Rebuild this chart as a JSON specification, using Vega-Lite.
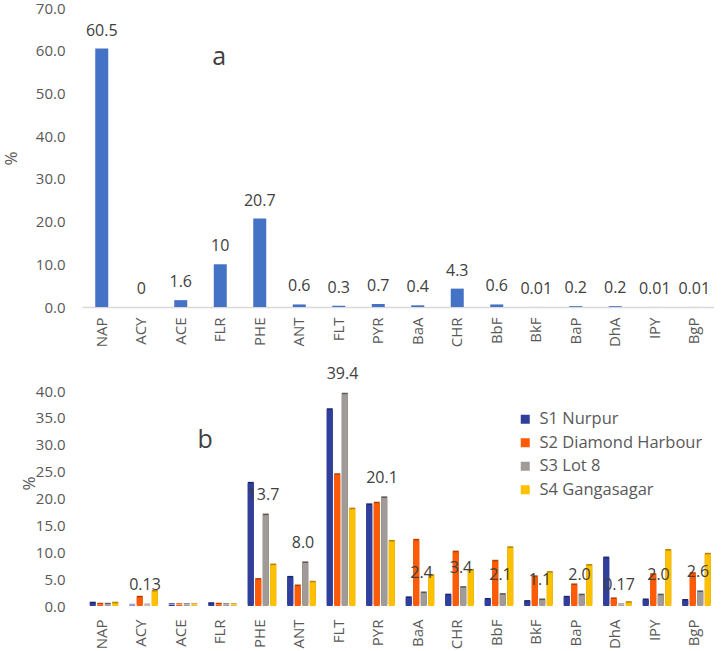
{
  "$schema": "https://vega.github.io/schema/vega-lite/v6.json",
  "background": "white",
  "padding": {"left": 2, "top": 1, "right": 0, "bottom": 0},
  "spacing": 19,
  "config": {
    "font": "Open Sans",
    "view": {"stroke": null},
    "axis": {"labelFont": "Open Sans", "titleFont": "Open Sans", "labelColor": "#595959", "titleColor": "#595959", "grid": false, "ticks": false, "labelOverlap": false}
  },
  "datasets": {
    "single": [
      {"pah": "NAP", "pct": 60.5, "label": "60.5"},
      {"pah": "ACY", "pct": 0, "label": "0"},
      {"pah": "ACE", "pct": 1.6, "label": "1.6"},
      {"pah": "FLR", "pct": 10, "label": "10"},
      {"pah": "PHE", "pct": 20.7, "label": "20.7"},
      {"pah": "ANT", "pct": 0.6, "label": "0.6"},
      {"pah": "FLT", "pct": 0.3, "label": "0.3"},
      {"pah": "PYR", "pct": 0.7, "label": "0.7"},
      {"pah": "BaA", "pct": 0.4, "label": "0.4"},
      {"pah": "CHR", "pct": 4.3, "label": "4.3"},
      {"pah": "BbF", "pct": 0.6, "label": "0.6"},
      {"pah": "BkF", "pct": 0.01, "label": "0.01"},
      {"pah": "BaP", "pct": 0.2, "label": "0.2"},
      {"pah": "DhA", "pct": 0.2, "label": "0.2"},
      {"pah": "IPY", "pct": 0.01, "label": "0.01"},
      {"pah": "BgP", "pct": 0.01, "label": "0.01"}
    ],
    "sites": [
      {"pah": "NAP", "site": "S1 Nurpur", "pct": 0.5},
      {"pah": "NAP", "site": "S2 Diamond Harbour", "pct": 0.3},
      {"pah": "NAP", "site": "S3 Lot 8", "pct": 0.3},
      {"pah": "NAP", "site": "S4 Gangasagar", "pct": 0.5},
      {"pah": "ACY", "site": "S1 Nurpur", "pct": 0.1},
      {"pah": "ACY", "site": "S2 Diamond Harbour", "pct": 1.6},
      {"pah": "ACY", "site": "S3 Lot 8", "pct": 0.13, "label": "0.13"},
      {"pah": "ACY", "site": "S4 Gangasagar", "pct": 2.7},
      {"pah": "ACE", "site": "S1 Nurpur", "pct": 0.2},
      {"pah": "ACE", "site": "S2 Diamond Harbour", "pct": 0.2},
      {"pah": "ACE", "site": "S3 Lot 8", "pct": 0.2},
      {"pah": "ACE", "site": "S4 Gangasagar", "pct": 0.2},
      {"pah": "FLR", "site": "S1 Nurpur", "pct": 0.4},
      {"pah": "FLR", "site": "S2 Diamond Harbour", "pct": 0.3},
      {"pah": "FLR", "site": "S3 Lot 8", "pct": 0.2},
      {"pah": "FLR", "site": "S4 Gangasagar", "pct": 0.2},
      {"pah": "PHE", "site": "S1 Nurpur", "pct": 22.8},
      {"pah": "PHE", "site": "S2 Diamond Harbour", "pct": 4.9},
      {"pah": "PHE", "site": "S3 Lot 8", "pct": 16.9, "label": "13.7"},
      {"pah": "PHE", "site": "S4 Gangasagar", "pct": 7.6},
      {"pah": "ANT", "site": "S1 Nurpur", "pct": 5.3},
      {"pah": "ANT", "site": "S2 Diamond Harbour", "pct": 3.7},
      {"pah": "ANT", "site": "S3 Lot 8", "pct": 8.0, "label": "8.0"},
      {"pah": "ANT", "site": "S4 Gangasagar", "pct": 4.4},
      {"pah": "FLT", "site": "S1 Nurpur", "pct": 36.5},
      {"pah": "FLT", "site": "S2 Diamond Harbour", "pct": 24.4},
      {"pah": "FLT", "site": "S3 Lot 8", "pct": 39.4, "label": "39.4"},
      {"pah": "FLT", "site": "S4 Gangasagar", "pct": 18.0},
      {"pah": "PYR", "site": "S1 Nurpur", "pct": 18.8},
      {"pah": "PYR", "site": "S2 Diamond Harbour", "pct": 19.1},
      {"pah": "PYR", "site": "S3 Lot 8", "pct": 20.1, "label": "20.1"},
      {"pah": "PYR", "site": "S4 Gangasagar", "pct": 12.0},
      {"pah": "BaA", "site": "S1 Nurpur", "pct": 1.5},
      {"pah": "BaA", "site": "S2 Diamond Harbour", "pct": 12.2},
      {"pah": "BaA", "site": "S3 Lot 8", "pct": 2.4, "label": "2.4"},
      {"pah": "BaA", "site": "S4 Gangasagar", "pct": 5.6},
      {"pah": "CHR", "site": "S1 Nurpur", "pct": 2.0},
      {"pah": "CHR", "site": "S2 Diamond Harbour", "pct": 10.0},
      {"pah": "CHR", "site": "S3 Lot 8", "pct": 3.4, "label": "3.4"},
      {"pah": "CHR", "site": "S4 Gangasagar", "pct": 6.6},
      {"pah": "BbF", "site": "S1 Nurpur", "pct": 1.2},
      {"pah": "BbF", "site": "S2 Diamond Harbour", "pct": 8.3},
      {"pah": "BbF", "site": "S3 Lot 8", "pct": 2.1, "label": "2.1"},
      {"pah": "BbF", "site": "S4 Gangasagar", "pct": 10.8},
      {"pah": "BkF", "site": "S1 Nurpur", "pct": 0.8},
      {"pah": "BkF", "site": "S2 Diamond Harbour", "pct": 5.4},
      {"pah": "BkF", "site": "S3 Lot 8", "pct": 1.1, "label": "1.1"},
      {"pah": "BkF", "site": "S4 Gangasagar", "pct": 6.2},
      {"pah": "BaP", "site": "S1 Nurpur", "pct": 1.6},
      {"pah": "BaP", "site": "S2 Diamond Harbour", "pct": 3.9},
      {"pah": "BaP", "site": "S3 Lot 8", "pct": 2.0, "label": "2.0"},
      {"pah": "BaP", "site": "S4 Gangasagar", "pct": 7.5},
      {"pah": "DhA", "site": "S1 Nurpur", "pct": 8.9},
      {"pah": "DhA", "site": "S2 Diamond Harbour", "pct": 1.3},
      {"pah": "DhA", "site": "S3 Lot 8", "pct": 0.17, "label": "0.17"},
      {"pah": "DhA", "site": "S4 Gangasagar", "pct": 0.6},
      {"pah": "IPY", "site": "S1 Nurpur", "pct": 1.1},
      {"pah": "IPY", "site": "S2 Diamond Harbour", "pct": 5.8},
      {"pah": "IPY", "site": "S3 Lot 8", "pct": 2.0, "label": "2.0"},
      {"pah": "IPY", "site": "S4 Gangasagar", "pct": 10.3},
      {"pah": "BgP", "site": "S1 Nurpur", "pct": 1.0},
      {"pah": "BgP", "site": "S2 Diamond Harbour", "pct": 6.0},
      {"pah": "BgP", "site": "S3 Lot 8", "pct": 2.6, "label": "2.6"},
      {"pah": "BgP", "site": "S4 Gangasagar", "pct": 9.6}
    ]
  },
  "vconcat": [
    {
      "width": 632,
      "height": 299,
      "layer": [
        {
          "data": {"name": "single"},
          "encoding": {
            "x": {
              "field": "pah", "type": "nominal",
              "sort": ["NAP", "ACY", "ACE", "FLR", "PHE", "ANT", "FLT", "PYR", "BaA", "CHR", "BbF", "BkF", "BaP", "DhA", "IPY", "BgP"],
              "scale": {"paddingInner": 0, "paddingOuter": 0},
              "axis": {"title": null, "labelAngle": -90, "labelFontSize": 15, "labelPadding": 10, "domainColor": "#d9d9d9", "domainWidth": 1.5}
            },
            "y": {
              "field": "pct", "type": "quantitative",
              "scale": {"domain": [0, 70], "nice": false},
              "axis": {"title": "%", "values": [0, 10, 20, 30, 40, 50, 60, 70], "format": ".1f", "labelFontSize": 15, "labelPadding": 17, "domain": false, "titleFontSize": 17, "titleFontWeight": "normal", "titleBaseline": "middle", "titleAlign": "center", "titleX": -71, "titleY": 150}
            }
          },
          "layer": [
            {"mark": {"type": "bar", "color": "#4472C4", "width": 13}},
            {"mark": {"type": "text", "baseline": "middle", "dy": -18, "fontSize": 16, "color": "#404040"}, "encoding": {"text": {"field": "label"}}}
          ]
        },
        {
          "data": {"values": [{}]},
          "mark": {"type": "text", "fontSize": 25, "fontWeight": "normal", "color": "#404040", "baseline": "middle", "dx": -1},
          "encoding": {
            "x": {"datum": "FLR"},
            "y": {"datum": 58.5, "axis": {"title": "%", "values": [0, 10, 20, 30, 40, 50, 60, 70], "format": ".1f", "labelFontSize": 15, "labelPadding": 17, "domain": false, "titleFontSize": 17, "titleFontWeight": "normal", "titleBaseline": "middle", "titleAlign": "center", "titleX": -71, "titleY": 150}},
            "text": {"value": "a"}
          }
        }
      ]
    },
    {
      "width": 632,
      "height": 215,
      "layer": [
        {
          "data": {"name": "sites"},
          "encoding": {
            "x": {
              "field": "pah", "type": "nominal",
              "sort": ["NAP", "ACY", "ACE", "FLR", "PHE", "ANT", "FLT", "PYR", "BaA", "CHR", "BbF", "BkF", "BaP", "DhA", "IPY", "BgP"],
              "scale": {"paddingInner": 0.24, "paddingOuter": 0.12},
              "axis": {"title": null, "labelAngle": -90, "labelFontSize": 15, "labelPadding": 13, "domain": false}
            },
            "y": {
              "field": "pct", "type": "quantitative",
              "scale": {"domain": [0, 40], "nice": false},
              "axis": {"title": "%", "values": [0, 5, 10, 15, 20, 25, 30, 35, 40], "format": ".1f", "labelFontSize": 15, "labelPadding": 17, "domain": false, "titleFontSize": 17, "titleFontWeight": "normal", "titleBaseline": "middle", "titleAlign": "center", "titleX": -53, "titleY": 92}
            },
            "xOffset": {"field": "site", "type": "nominal", "sort": ["S1 Nurpur", "S2 Diamond Harbour", "S3 Lot 8", "S4 Gangasagar"], "scale": {"paddingInner": 0}}
          },
          "layer": [
            {
              "layer": [
                {
                  "description": "shaded side and top of each column, drawn behind the front face for a 3-D look",
                  "mark": {"type": "bar", "width": {"band": 0.8}, "xOffset": 1.6, "yOffset": -1.6},
                  "encoding": {
                    "color": {
                      "field": "site", "type": "nominal",
                      "scale": {"domain": ["S1 Nurpur", "S2 Diamond Harbour", "S3 Lot 8", "S4 Gangasagar"], "range": ["#1D2675", "#B54000", "#5F5854", "#B58700"]},
                      "legend": null
                    }
                  }
                },
                {
                  "mark": {"type": "bar", "width": {"band": 0.8}},
                  "encoding": {
                    "color": {
                      "field": "site", "type": "nominal",
                      "sort": ["S1 Nurpur", "S2 Diamond Harbour", "S3 Lot 8", "S4 Gangasagar"],
                      "scale": {"domain": ["S1 Nurpur", "S2 Diamond Harbour", "S3 Lot 8", "S4 Gangasagar"], "range": ["#2F3F9B", "#FF5A05", "#A19B97", "#FFC000"]},
                      "legend": {
                        "title": null, "orient": "none", "legendX": 435, "legendY": 20,
                        "symbolType": "square", "symbolSize": 81, "symbolStrokeWidth": 0,
                        "labelFontSize": 16.5, "labelColor": "#595959", "labelFont": "Open Sans", "labelLimit": 400,
                        "rowPadding": 6.5, "labelOffset": 6,
                        "encode": {"symbols": {"update": {"fill": {"signal": "datum.value === 'S1 Nurpur' ? '#4472C4' : datum.value === 'S2 Diamond Harbour' ? '#E8700F' : datum.value === 'S3 Lot 8' ? '#A5A5A5' : '#FFC000'"}, "stroke": {"value": null}}}}
                      }
                    }
                  }
                }
              ],
              "resolve": {"scale": {"color": "independent"}, "legend": {"color": "independent"}}
            },
            {
              "transform": [{"filter": "isValid(datum.label)"}],
              "mark": {"type": "text", "baseline": "middle", "dy": -20, "fontSize": 16, "color": "#404040"},
              "encoding": {"text": {"field": "label"}}
            }
          ]
        },
        {
          "data": {"values": [{}]},
          "mark": {"type": "text", "fontSize": 25, "fontWeight": "normal", "color": "#404040", "baseline": "middle", "dx": -15},
          "encoding": {
            "x": {"datum": "FLR"},
            "y": {"datum": 30.9, "axis": {"title": "%", "values": [0, 5, 10, 15, 20, 25, 30, 35, 40], "format": ".1f", "labelFontSize": 15, "labelPadding": 17, "domain": false, "titleFontSize": 17, "titleFontWeight": "normal", "titleBaseline": "middle", "titleAlign": "center", "titleX": -53, "titleY": 92}},
            "text": {"value": "b"}
          }
        }
      ]
    }
  ]
}
